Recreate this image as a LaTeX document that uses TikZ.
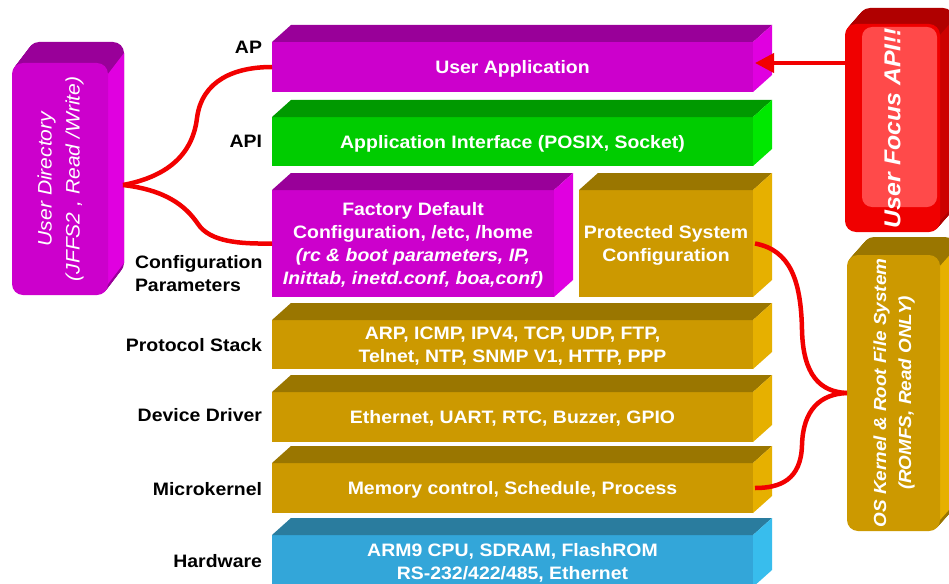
\documentclass[tikz,border=0pt]{standalone}
\usepackage{fontspec}
\usepackage{graphicx}
\setmainfont{Liberation Sans}[FakeStretch=1.08]
\usetikzlibrary{arrows.meta}
\definecolor{magF}{HTML}{CC00CC}
\definecolor{magT}{HTML}{990099}
\definecolor{magS}{HTML}{E000E0}
\definecolor{grnF}{HTML}{00CC00}
\definecolor{grnT}{HTML}{009900}
\definecolor{grnS}{HTML}{00E800}
\definecolor{gldF}{HTML}{CC9900}
\definecolor{gldT}{HTML}{9A7600}
\definecolor{gldS}{HTML}{E6B000}
\definecolor{bluF}{HTML}{33A6D9}
\definecolor{bluT}{HTML}{2A7C9E}
\definecolor{bluS}{HTML}{38BDED}
\definecolor{redF}{HTML}{F00000}
\definecolor{redL}{HTML}{FF4A4A}
\definecolor{redT}{HTML}{B00000}
\definecolor{redS}{HTML}{CC0000}
\definecolor{linkred}{HTML}{F20000}
\pgfdeclarelayer{paper}
\pgfdeclarelayer{bg}
\pgfsetlayers{paper,bg,main}
\newcommand\slabfaces[3]{%
  \fill[#2] (#1.north west) -- ++(19,-17) -- ([shift={(19,-17)}]#1.north east) -- (#1.north east) -- cycle;
  \fill[#3] (#1.north east) -- ++(19,-17) -- ([shift={(19,-17)}]#1.south east) -- (#1.south east) -- cycle;}
% name, dx, dy, top, side, front : extruded rounded box
\newcommand\roundfaces[6]{%
  \begin{pgfonlayer}{bg}
  \foreach \t in {1,0.95,...,0.04}{
    \fill[#4, rounded corners=11pt] ([shift={(\t*#2,\t*#3)}]#1.north west) rectangle ([shift={(\t*#2,\t*#3)}]#1.south east);}
  \fill[#5] ([yshift=-11pt]#1.north east) -- ++(#2,#3) -- ([shift={(#2,#3)},yshift=11pt]#1.south east) -- ([yshift=11pt]#1.south east) -- cycle;
  \fill[#6, rounded corners=11pt] (#1.north west) rectangle (#1.south east);
  \end{pgfonlayer}}
\begin{document}
\begin{tikzpicture}[x=1pt,y=-1pt,
  slab/.style={rectangle, inner sep=0pt, outer sep=0pt, text=white, align=center, text depth=0pt,
    font=\bfseries\fontsize{18}{23}\selectfont},
  lbl/.style={inner sep=0pt, outer sep=0pt, text=black, align=left,
    font=\bfseries\fontsize{18}{23}\selectfont},
  rbox/.style={rectangle, inner sep=0pt, outer sep=0pt, text=white},
  link/.style={draw=linkred, line width=4.5pt}]
\useasboundingbox (0,0) rectangle (949,583);
\clip (0,0) rectangle (949,583);
\begin{pgfonlayer}{paper}
\fill[white] (0,0) rectangle (949,583);
\end{pgfonlayer}

% ---- layer slabs
\node[slab, fill=magF, minimum width=481pt, minimum height=50pt] (app) at (512.5,67) {User Application};
\slabfaces{app}{magT}{magS}
\node[slab, fill=grnF, minimum width=481pt, minimum height=49pt] (api) at (512.5,141.5) {Application Interface (POSIX, Socket)};
\slabfaces{api}{grnT}{grnS}
\node[slab, fill=magF, minimum width=282pt, minimum height=107pt] (factory) at (413,243.5)
  {Factory Default\\Configuration, /etc, /home\\\textit{(rc \& boot parameters, IP,}\\\textit{Inittab, inetd.conf, boa,conf)}};
\slabfaces{factory}{magT}{magS}
\node[slab, fill=gldF, minimum width=174pt, minimum height=107pt] (protsys) at (666,243.5)
  {Protected System\\Configuration};
\slabfaces{protsys}{gldT}{gldS}
\node[slab, fill=gldF, minimum width=481pt, minimum height=49pt] (proto) at (512.5,344.5)
  {ARP, ICMP, IPV4, TCP, UDP, FTP,\\Telnet, NTP, SNMP V1, HTTP, PPP};
\slabfaces{proto}{gldT}{gldS}
\node[slab, fill=gldF, minimum width=481pt, minimum height=50pt] (driver) at (512.5,417)
  {Ethernet, UART, RTC, Buzzer, GPIO};
\slabfaces{driver}{gldT}{gldS}
\node[slab, fill=gldF, minimum width=481pt, minimum height=50pt] (kernel) at (512.5,488)
  {Memory control, Schedule, Process};
\slabfaces{kernel}{gldT}{gldS}
\node[slab, fill=bluF, minimum width=481pt, minimum height=52pt] (hw) at (512.5,561)
  {ARM9 CPU, SDRAM, FlashROM\\RS-232/422/485, Ethernet};
\slabfaces{hw}{bluT}{bluS}

% ---- left labels
\node[lbl, anchor=east] (lap) at (262,47) {AP};
\node[lbl, anchor=east] (lapi) at (262,141) {API};
\node[lbl, anchor=west] (lcfg) at (135,273.5) {Configuration\\Parameters};
\node[lbl, anchor=east] (lproto) at (262,345) {Protocol Stack};
\node[lbl, anchor=east] (ldrv) at (262,415) {Device Driver};
\node[lbl, anchor=east] (lkern) at (262,489) {Microkernel};
\node[lbl, anchor=east] (lhw) at (262,561) {Hardware};

% ---- side boxes
\node[rbox, minimum width=96pt, minimum height=232pt] (udir) at (60,179)
  {\rotatebox{90}{\fontsize{19.5}{28}\selectfont\itshape\begin{tabular}{@{}c@{}}User Directory\\(JFFS2 , Read /Write)\end{tabular}}};
\roundfaces{udir}{16}{-21}{magT}{magS}{magF}

\node[rbox, minimum width=95pt, minimum height=208pt] (focus) at (892.5,128)
  {\rotatebox{90}{\fontsize{23}{28}\selectfont\bfseries\itshape User Focus API!!}};
\roundfaces{focus}{14}{-16}{redT}{redS}{redF}
\begin{pgfonlayer}{bg}
\fill[redL, rounded corners=10pt] ([shift={(17,3)}]focus.north west) rectangle ([shift={(-3,-25)}]focus.south east);
\end{pgfonlayer}

\node[rbox, minimum width=93pt, minimum height=276pt] (oskern) at (893.5,393)
  {\rotatebox{90}{\fontsize{17.5}{25}\selectfont\bfseries\itshape\begin{tabular}{@{}c@{}}OS Kernel \& Root File System\\(ROMFS, Read ONLY)\end{tabular}}};
\roundfaces{oskern}{16}{-18}{gldT}{gldS}{gldF}

% ---- connectors
\coordinate (jl) at ([xshift=15pt,yshift=-6pt]udir.east);
\draw[link] (jl) .. controls (160,178) and (192,160) .. (197,118) .. controls (202,80) and (235,67) .. (app.west);
\draw[link] (jl) .. controls (165,190) and (185,205) .. (198,224) .. controls (210,242) and (240,244) .. (factory.west);

\coordinate (ps) at ([xshift=2pt]protsys.east);
\coordinate (mk) at ([xshift=2pt]kernel.east);
\draw[link] (ps) .. controls (790,250) and (801,280) .. (802,330) .. controls (803,375) and (820,392) .. (oskern.west);
\draw[link] (oskern.west) .. controls (820,394) and (803,410) .. (802,445) .. controls (801,480) and (780,488) .. (mk);

\coordinate (tip) at ([shift={(2,-4)}]app.east);
\draw[draw=linkred, line width=4pt, -{Triangle[length=19pt,width=19pt]}] (focus.west |- tip) -- (tip);
\end{tikzpicture}
\end{document}
